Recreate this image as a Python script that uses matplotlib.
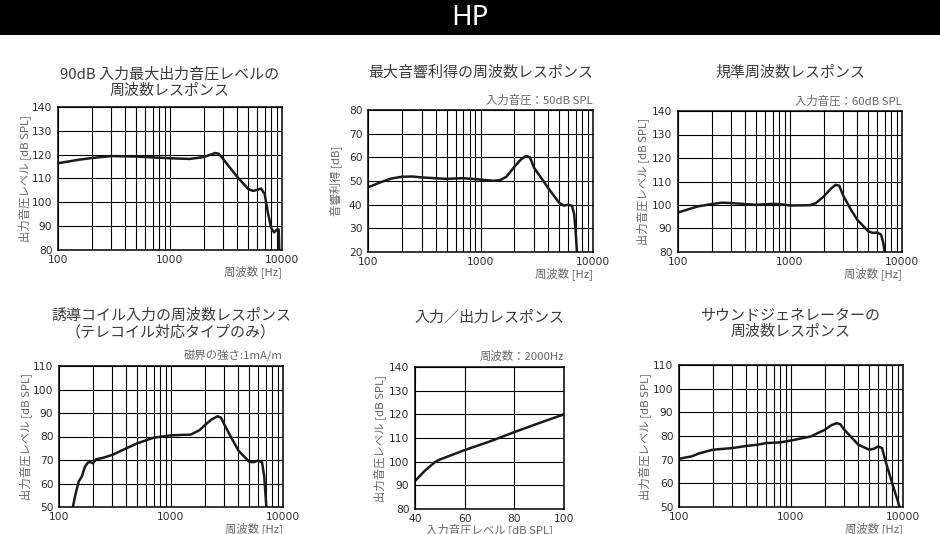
import numpy as np
import matplotlib
matplotlib.use('Agg')
from matplotlib import pyplot as plt
from matplotlib.ticker import FixedLocator, NullFormatter

plt.rcParams['font.family'] = ['Noto Sans CJK JP', 'DejaVu Sans']

W, H = 940, 534

# --- data ---
max_out_freq = [100, 150, 200, 300, 500, 1000, 1500, 2000, 2300, 2550, 2750, 3000, 3500, 4000,
                5000, 5500, 6000, 6500, 7000, 7500, 8000, 8500, 9000, 9350, 9450]
max_out_level = [116.4, 117.8, 118.6, 119.4, 119.2, 118.5, 118.2, 119.0, 120.0, 120.7, 120.3, 118.0,
                 114.0, 110.6, 105.6, 104.8, 105.2, 105.8, 103.5, 95.5, 89.2, 87.4, 88.6, 88.6, 80]

gain_freq = [100, 130, 160, 200, 250, 300, 500, 700, 1000, 1300, 1500, 1700, 2000, 2300, 2550,
             2750, 3000, 3500, 4000, 5000, 5500, 6000, 6500, 6800, 7000, 7200]
gain_level = [47.3, 49.5, 51.0, 51.8, 51.9, 51.5, 50.9, 51.2, 50.6, 50.1, 50.4, 51.8, 56.0, 59.2,
              60.6, 60.0, 55.5, 51.0, 47.0, 40.8, 39.6, 40.0, 39.5, 36.0, 29.0, 20]

ref_freq = [100, 150, 200, 250, 300, 500, 700, 800, 1000, 1500, 1700, 2000, 2300, 2550, 2750,
            3000, 3500, 4000, 5000, 5500, 6000, 6500, 6800, 7000]
ref_level = [96.8, 99.4, 100.4, 101.0, 100.8, 100.1, 100.5, 100.4, 99.8, 99.9, 100.8, 103.6,
             106.8, 108.6, 108.2, 103.8, 98.0, 93.6, 88.8, 88.1, 88.3, 87.4, 84.0, 80]

coil_freq = [133, 140, 150, 160, 170, 180, 190, 200, 215, 250, 300, 400, 500, 700, 1000, 1500,
             1800, 2000, 2300, 2600, 2800, 3000, 3500, 4000, 5000, 5500, 6000, 6500, 6800, 7100]
coil_level = [50, 55.2, 60.9, 63.0, 67.0, 68.8, 69.2, 68.6, 70.3, 71.0, 72.2, 75.0, 77.1, 79.5,
              80.5, 80.8, 82.7, 84.8, 87.2, 88.6, 88.0, 85.0, 79.0, 74.0, 69.2, 69.1, 69.8, 69.0,
              63.0, 50]

io_input = [40, 44, 48, 50, 60, 70, 80, 90, 100]
io_output = [91.8, 96.2, 99.8, 100.9, 104.9, 108.5, 112.5, 116.3, 120.0]

gen_freq = [100, 130, 150, 200, 300, 400, 500, 600, 800, 1000, 1500, 2000, 2300, 2550, 2750,
            3000, 3500, 4000, 5000, 5500, 6000, 6500, 7000, 8000, 9000, 9300]
gen_level = [70.4, 71.4, 72.6, 74.2, 74.9, 75.8, 76.3, 77.0, 77.3, 78.1, 79.8, 82.6, 84.6, 85.4,
             85.0, 82.6, 79.2, 76.3, 74.2, 74.6, 75.6, 74.9, 69.2, 60.1, 52.4, 50]

freq_ticks = [100, 1000, 10000]
freq_grid = [f * m for f in (100, 1000) for m in range(1, 10)] + [10000]

TEXT = '#2b2b2b'
TITLE = '#3a3a3a'
LABEL = '#666666'
TITLE_SIZE = 10.8
SMALL = 8.2


def px(x, y):
    return x / W, 1 - y / H


def make_ax(fig, left, top, right, bottom):
    ax = fig.add_axes([left / W, 1 - bottom / H, (right - left) / W, (bottom - top) / H])
    for s in ax.spines.values():
        s.set_linewidth(1.1)
        s.set_color('black')
    ax.tick_params(length=0, labelsize=7.7, labelcolor=TEXT)
    ax.tick_params(axis='y', pad=4)
    ax.tick_params(axis='x', pad=3.5)
    return ax


def tick_font(ax):
    for lbl in ax.get_xticklabels() + ax.get_yticklabels():
        lbl.set_family('DejaVu Sans')


def freq_axes(ax, ymin, ymax):
    ax.set_xscale('log')
    ax.set_xlim(100, 10000)
    ax.set_ylim(ymin, ymax)
    ax.xaxis.set_major_locator(FixedLocator(freq_ticks))
    ax.xaxis.set_minor_locator(FixedLocator(freq_grid))
    ax.xaxis.set_minor_formatter(NullFormatter())
    ax.set_xticklabels([str(t) for t in freq_ticks])
    ax.set_yticks(np.arange(ymin, ymax + 1, 10))
    ax.grid(True, which='both', axis='x', color='black', linewidth=0.8)
    ax.grid(True, which='major', axis='y', color='black', linewidth=0.8)
    ax.tick_params(which='minor', length=0)
    tick_font(ax)


fig = plt.figure(figsize=(W / 100, H / 100), dpi=100)

# banner
fig.patches.append(plt.Rectangle((0, 1 - 35 / H), 1, 35 / H, transform=fig.transFigure,
                                 facecolor='black', edgecolor='none'))
fig.text(*px(470, 18), 'HP', color='white', fontsize=20, ha='center', va='center',
         family=['Noto Sans', 'DejaVu Sans'])

panels = [
    dict(box=(58, 107, 282, 250), x=max_out_freq, y=max_out_level, ylim=(80, 140),
         title='90dB 入力最大出力音圧レベルの\n周波数レスポンス', title_y=82, note=None,
         ylabel='出力音圧レベル [dB SPL]', ylabel_x=25),
    dict(box=(368, 110, 593, 252), x=gain_freq, y=gain_level, ylim=(20, 80),
         title='最大音響利得の周波数レスポンス', title_y=73, note='入力音圧：50dB SPL',
         ylabel='音響利得 [dB]', ylabel_x=336),
    dict(box=(678, 111, 902, 252), x=ref_freq, y=ref_level, ylim=(80, 140),
         title='規準周波数レスポンス', title_y=73, note='入力音圧：60dB SPL',
         ylabel='出力音圧レベル [dB SPL]', ylabel_x=643),
    dict(box=(59, 366, 283, 507), x=coil_freq, y=coil_level, ylim=(50, 110),
         title='誘導コイル入力の周波数レスポンス\n（テレコイル対応タイプのみ）', title_y=324,
         note='磁界の強さ:1mA/m', ylabel='出力音圧レベル [dB SPL]', ylabel_x=26),
    dict(box=(679, 365, 903, 507), x=gen_freq, y=gen_level, ylim=(50, 110),
         title='サウンドジェネレーターの\n周波数レスポンス', title_y=324, note=None,
         ylabel='出力音圧レベル [dB SPL]', ylabel_x=645),
]

for p in panels:
    l, t, r, b = p['box']
    ax = make_ax(fig, l, t, r, b)
    freq_axes(ax, *p['ylim'])
    ax.plot(p['x'], p['y'], color='#1a1a1a', linewidth=1.8, solid_joinstyle='round',
            solid_capstyle='round', clip_on=True)
    fig.text(*px((l + r) / 2, p['title_y']), p['title'], ha='center', va='center',
             fontsize=TITLE_SIZE, color=TITLE, linespacing=1.2)
    if p['note']:
        fig.text(*px(r, t - 10), p['note'], ha='right', va='center', fontsize=SMALL, color=LABEL)
    fig.text(*px(r, b + 22), '周波数 [Hz]', ha='right', va='center', fontsize=SMALL, color=LABEL)
    fig.text(*px(p['ylabel_x'], (t + b) / 2), p['ylabel'], ha='center', va='center',
             rotation=90, fontsize=SMALL, color=LABEL)

# input / output response
l, t, r, b = 415, 367, 564, 509
ax = make_ax(fig, l, t, r, b)
ax.set_xlim(40, 100)
ax.set_ylim(80, 140)
ax.set_xticks([40, 60, 80, 100])
ax.set_yticks(np.arange(80, 141, 10))
ax.grid(True, color='black', linewidth=0.8)
tick_font(ax)
ax.plot(io_input, io_output, color='#1a1a1a', linewidth=1.8, solid_joinstyle='round')
fig.text(*px((l + r) / 2, 318), '入力／出力レスポンス', ha='center', va='center',
         fontsize=TITLE_SIZE, color=TITLE)
fig.text(*px(r, t - 11), '周波数：2000Hz', ha='right', va='center', fontsize=SMALL, color=LABEL)
fig.text(*px((l + r) / 2, 530), '入力音圧レベル [dB SPL]', ha='center', va='center',
         fontsize=SMALL, color=LABEL)
fig.text(*px(380, (t + b) / 2), '出力音圧レベル [dB SPL]', ha='center', va='center',
         rotation=90, fontsize=SMALL, color=LABEL)

fig.savefig('out.png', dpi=100)
